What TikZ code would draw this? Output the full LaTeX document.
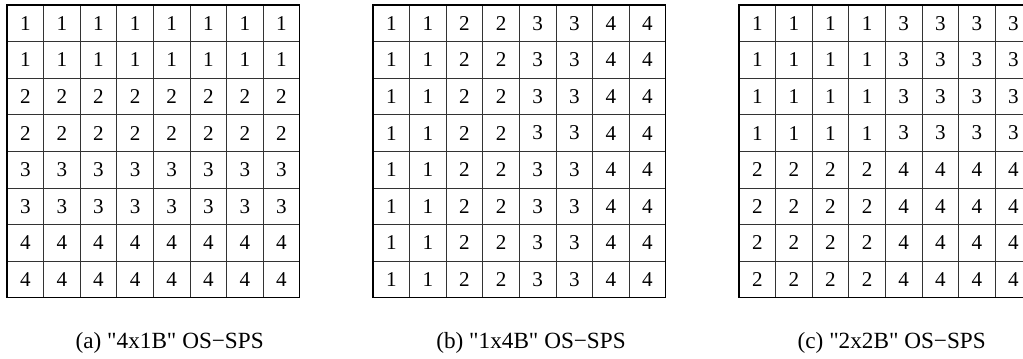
\documentclass[tikz,border=0pt]{standalone}
\usepackage{fontspec}
\setmainfont{Liberation Serif}[Ligatures=TeXOff]
\usetikzlibrary{positioning}

\begin{document}
\begin{tikzpicture}[x=0.025cm,y=0.025cm,
  cell/.style={font=\fontsize{15}{18}\selectfont,inner sep=0pt},
  capt/.style={font=\fontsize{16.5}{20}\selectfont,anchor=base east,inner sep=0pt},
  inner/.style={line width=0.6pt,black!80},
  outer/.style={line width=0.9pt,black}]
\useasboundingbox (0,0) rectangle (1023,358);
\def\cw{36.6}
% three 8x8 grids, left edges at 7, 373, 739
\foreach \gx in {7,373,739}{
  \foreach \k in {1,...,7}{
    \draw[inner] (\gx+\k*\cw,353) -- (\gx+\k*\cw,353-8*\cw);
    \draw[inner] (\gx,353-\k*\cw) -- (\gx+8*\cw,353-\k*\cw);
  }
  \draw[outer] (\gx,353) rectangle (\gx+8*\cw,353-8*\cw);
}
% cell entries: (a) by rows, (b) by columns, (c) by quadrants
\foreach \r in {1,...,8}{
  \foreach \c in {1,...,8}{
    \pgfmathtruncatemacro\va{int((\r+1)/2)}
    \pgfmathtruncatemacro\vb{int((\c+1)/2)}
    \pgfmathtruncatemacro\vc{\r>4 ? (\c>4 ? 4 : 2) : (\c>4 ? 3 : 1)}
    \node[cell] (a-\r-\c) at (7+\c*\cw-\cw/2,353-\r*\cw+\cw/2) {\va};
    \node[cell] (b-\r-\c) at (373+\c*\cw-\cw/2,353-\r*\cw+\cw/2) {\vb};
    \node[cell] (c-\r-\c) at (739+\c*\cw-\cw/2,353-\r*\cw+\cw/2) {\vc};
  }
}
% captions
\node[capt] (capa) at (264,10) {(a) "4x1B" OS−SPS};
\node[capt] (capb) at (626,10) {(b) "1x4B" OS−SPS};
\node[capt] (capc) at (986,10) {(c) "2x2B" OS−SPS};
\end{tikzpicture}
\end{document}
